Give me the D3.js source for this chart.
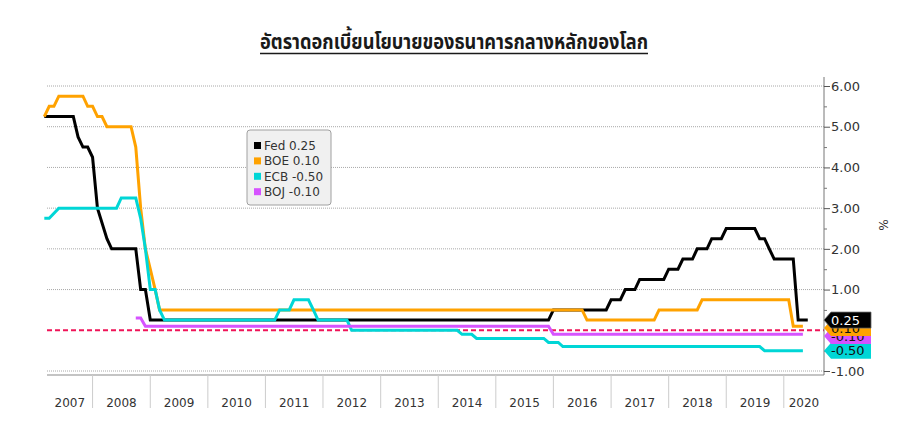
<!DOCTYPE html>
<html>
<head>
<meta charset="utf-8">
<script src="https://cdn.jsdelivr.net/npm/d3@7"></script>
<style>
  body { margin: 0; background: #fff; }
  svg { display: block; font-family: "DejaVu Sans", sans-serif; }
</style>
</head>
<body>
<div id="chart"></div>
<script>
// --- data (month, rate %) : break points of each policy rate ---
const fedRates = [
  ["2007-03", 5.25], ["2007-09", 5.25], ["2007-10", 4.75], ["2007-11", 4.5], ["2007-12", 4.5],
  ["2008-01", 4.25], ["2008-02", 3.0], ["2008-04", 2.25], ["2008-05", 2.0], ["2008-10", 2.0],
  ["2008-11", 1.0], ["2008-12", 1.0], ["2009-01", 0.25], ["2015-12", 0.25], ["2016-01", 0.5],
  ["2016-12", 0.5], ["2017-01", 0.75], ["2017-03", 0.75], ["2017-04", 1.0], ["2017-06", 1.0],
  ["2017-07", 1.25], ["2017-12", 1.25], ["2018-01", 1.5], ["2018-03", 1.5], ["2018-04", 1.75],
  ["2018-06", 1.75], ["2018-07", 2.0], ["2018-09", 2.0], ["2018-10", 2.25], ["2018-12", 2.25],
  ["2019-01", 2.5], ["2019-07", 2.5], ["2019-08", 2.25], ["2019-09", 2.25], ["2019-10", 2.0],
  ["2019-11", 1.75], ["2020-03", 1.75], ["2020-04", 0.25], ["2020-06", 0.25]
];
const boeRates = [
  ["2007-03", 5.25], ["2007-04", 5.5], ["2007-05", 5.5], ["2007-06", 5.75], ["2007-11", 5.75],
  ["2007-12", 5.5], ["2008-01", 5.5], ["2008-02", 5.25], ["2008-03", 5.25], ["2008-04", 5.0],
  ["2008-09", 5.0], ["2008-10", 4.5], ["2008-11", 3.0], ["2008-12", 2.0], ["2009-01", 1.5],
  ["2009-02", 1.0], ["2009-03", 0.5], ["2016-07", 0.5], ["2016-08", 0.25], ["2017-10", 0.25],
  ["2017-11", 0.5], ["2018-07", 0.5], ["2018-08", 0.75], ["2020-02", 0.75], ["2020-03", 0.1],
  ["2020-05", 0.1]
];
const ecbRates = [
  ["2007-03", 2.75], ["2007-04", 2.75], ["2007-06", 3.0], ["2008-06", 3.0], ["2008-07", 3.25],
  ["2008-10", 3.25], ["2008-11", 2.75], ["2008-12", 2.0], ["2009-01", 1.0], ["2009-02", 1.0],
  ["2009-03", 0.5], ["2009-04", 0.25], ["2011-03", 0.25], ["2011-04", 0.5], ["2011-06", 0.5],
  ["2011-07", 0.75], ["2011-10", 0.75], ["2011-11", 0.5], ["2011-12", 0.25], ["2012-06", 0.25],
  ["2012-07", 0.0], ["2014-05", 0.0], ["2014-06", -0.1], ["2014-08", -0.1], ["2014-09", -0.2],
  ["2015-11", -0.2], ["2015-12", -0.3], ["2016-02", -0.3], ["2016-03", -0.4], ["2019-08", -0.4],
  ["2019-09", -0.5], ["2020-05", -0.5]
];
const bojRates = [
  ["2008-10", 0.3], ["2008-11", 0.3], ["2008-12", 0.1], ["2015-12", 0.1], ["2016-01", -0.1],
  ["2020-05", -0.1]
];

const seriesNames = ["Fed", "BOE", "ECB", "BOJ"];
const seriesColors = ["#000000", "#ffa200", "#00d6d6", "#d653ff"];
const lastValues = [0.25, 0.10, -0.50, -0.10];
const yearLabels = ["2007","2008","2009","2010","2011","2012","2013","2014","2015","2016","2017","2018","2019","2020"];
const yTickValues = [-1, 1, 2, 3, 4, 5, 6];
const yMinorTicks = [-0.5, 0.5, 1.5, 2.5, 3.5, 4.5, 5.5];
const chartTitle = "อัตราดอกเบี้ยนโยบายของธนาคารกลางหลักของโลก";

const width = 908, height = 427;
const plotLeft = 47, plotRight = 824, plotTop = 77, plotBottom = 375;

// plain hyphen for negatives, like the original
const fmt = d3.formatLocale({ decimal: ".", thousands: ",", grouping: [3], currency: ["", ""], minus: "-" }).format(".2f");

const parseMonth = d3.timeParse("%Y-%m");
const allSeries = [fedRates, boeRates, ecbRates, bojRates].map((arr, i) => ({
  name: seriesNames[i],
  color: seriesColors[i],
  last: lastValues[i],
  values: arr.map(d => ({ date: parseMonth(d[0]), value: d[1] }))
}));

const svg = d3.select("#chart").append("svg")
  .attr("width", width)
  .attr("height", height);

const x = d3.scaleTime()
  .domain([new Date(2007, 0, 1), new Date(2020, 0, 1)])
  .range([35, 783.8]);
const y = d3.scaleLinear()
  .domain([-1, 6])
  .range([371, 86]);

// title
const title = svg.append("text")
  .attr("x", 454)
  .attr("y", 49)
  .attr("text-anchor", "middle")
  .attr("textLength", 388)
  .attr("lengthAdjust", "spacingAndGlyphs")
  .style("font-family", "Tahoma, 'Noto Sans Thai', 'Noto Serif Thai', Loma, Garuda, 'DejaVu Sans', sans-serif")
  .style("font-size", "22px")
  .style("font-weight", "bold")
  .style("fill", "#1a1a1a")
  .text(chartTitle);
svg.append("line")
  .attr("x1", 454 - 194).attr("x2", 454 + 194)
  .attr("y1", 53.5).attr("y2", 53.5)
  .attr("stroke", "#1a1a1a").attr("stroke-width", 1.6);

// gridlines
svg.append("g")
  .selectAll("line")
  .data(yTickValues)
  .join("line")
  .attr("x1", plotLeft).attr("x2", plotRight)
  .attr("y1", d => y(d)).attr("y2", d => y(d))
  .attr("stroke", "#a8a8a8")
  .attr("stroke-dasharray", "1,1");

// bottom line + year separators
svg.append("line")
  .attr("x1", plotLeft).attr("x2", plotRight)
  .attr("y1", plotBottom).attr("y2", plotBottom)
  .attr("stroke", "#8a8a8a").attr("stroke-width", 1.2);

const yearDates = yearLabels.map(s => new Date(+s, 0, 1));
svg.append("g")
  .selectAll("line")
  .data(yearDates.slice(1))
  .join("line")
  .attr("x1", d => x(d)).attr("x2", d => x(d))
  .attr("y1", plotBottom).attr("y2", plotBottom + 33)
  .attr("stroke", "#cccccc");

svg.append("g")
  .selectAll("text")
  .data(yearLabels)
  .join("text")
  .attr("x", (d, i) => {
    const a = Math.max(x(yearDates[i]), plotLeft);
    const b = Math.min(x(new Date(+d + 1, 0, 1)), plotRight);
    return (a + b) / 2;
  })
  .attr("y", 407)
  .attr("text-anchor", "middle")
  .style("font-size", "12px")
  .style("fill", "#333")
  .text(d => d);

// zero line
svg.append("line")
  .attr("x1", plotLeft).attr("x2", plotRight)
  .attr("y1", y(0)).attr("y2", y(0))
  .attr("stroke", "#f01458")
  .attr("stroke-width", 2)
  .attr("stroke-dasharray", "5,3");

// lines
const line = d3.line()
  .x(d => x(d.date))
  .y(d => y(d.value));

svg.append("g")
  .selectAll("path")
  .data(allSeries)
  .join("path")
  .attr("d", d => line(d.values))
  .attr("fill", "none")
  .attr("stroke", d => d.color)
  .attr("stroke-width", 3);

// right axis
svg.append("line")
  .attr("x1", plotRight).attr("x2", plotRight)
  .attr("y1", plotTop).attr("y2", plotBottom)
  .attr("stroke", "#777");

const yAxis = svg.append("g")
  .attr("transform", `translate(${plotRight},0)`)
  .call(d3.axisRight(y).tickValues(yTickValues).tickFormat(fmt).tickSize(6).tickPadding(1));
yAxis.select(".domain").remove();
yAxis.selectAll(".tick line").attr("stroke", "#555");
yAxis.selectAll(".tick text")
  .style("font-family", "'DejaVu Sans', sans-serif")
  .style("font-size", "13px")
  .style("fill", "#333");

const yMinor = svg.append("g")
  .attr("transform", `translate(${plotRight},0)`)
  .call(d3.axisRight(y).tickValues(yMinorTicks).tickFormat("").tickSize(3));
yMinor.select(".domain").remove();
yMinor.selectAll(".tick line").attr("stroke", "#777");

svg.append("text")
  .attr("transform", "translate(879,225) rotate(90)")
  .attr("text-anchor", "middle")
  .style("font-size", "12px")
  .style("fill", "#333")
  .text("%");

// end badges (stacked a little so they stay readable)
const badges = allSeries.slice().sort((a, b) => b.last - a.last);
let prevY = -Infinity;
badges.forEach(b => {
  b.by = Math.max(y(b.last), prevY + 8);
  prevY = b.by;
});
const badgeG = svg.append("g")
  .selectAll("g")
  .data(badges.slice().reverse())
  .join("g")
  .attr("transform", d => `translate(${plotRight},${d.by})`);
badgeG.append("path")
  .attr("d", "M0,0 L7,-8 L47,-8 L47,8 L7,8 Z")
  .attr("fill", d => d.color)
  .attr("stroke", d => d.name === "Fed" ? "#666" : "none")
  .attr("stroke-width", 0.8);
badgeG.append("text")
  .attr("x", 7)
  .attr("dy", "0.36em")
  .style("font-size", "13px")
  .style("fill", d => d.name === "Fed" ? "#fff" : "#111")
  .text(d => fmt(d.last));

// legend
const legend = svg.append("g").attr("transform", "translate(247,130)");
legend.append("rect")
  .attr("width", 84).attr("height", 75)
  .attr("rx", 3)
  .attr("fill", "#f0f0f0")
  .attr("stroke", "#a0a0a0");
const li = legend.selectAll("g.item")
  .data(allSeries)
  .join("g")
  .attr("class", "item")
  .attr("transform", (d, i) => `translate(0,${15.5 + i * 15.4})`);
li.append("rect")
  .attr("x", 7).attr("y", -3.5)
  .attr("width", 7).attr("height", 7)
  .attr("fill", d => d.color);
li.append("text")
  .attr("x", 17)
  .attr("dy", "0.36em")
  .style("font-size", "12px")
  .style("fill", "#333")
  .text(d => `${d.name} ${fmt(d.last)}`);
</script>
</body>
</html>
